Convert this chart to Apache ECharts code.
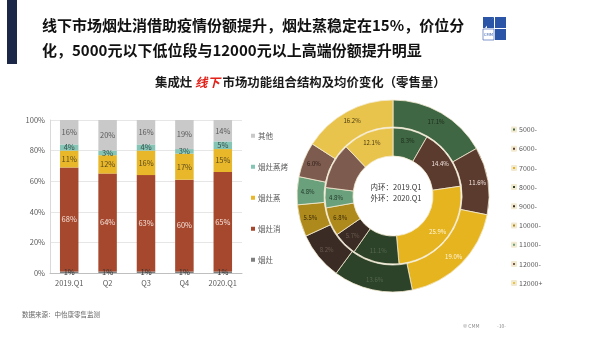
<!DOCTYPE html>
<html>
<head>
<meta charset="utf-8">
<style>
html,body{margin:0;padding:0;background:#fff;}
#chart{width:600px;height:338px;}
</style>
<script src="https://cdn.jsdelivr.net/npm/echarts@6/dist/echarts.min.js"></script>
</head>
<body>
<div id="chart"></div>
<script>
// ---- Data ----
const barCategories = ['2019.Q1', 'Q2', 'Q3', 'Q4', '2020.Q1'];
const barSeriesNames = ['烟灶', '烟灶消', '烟灶蒸', '烟灶蒸烤', '其他'];
const yanzao = [1, 1, 1, 1, 1];
const yanzaoXiao = [68, 64, 63, 60, 65];
const yanzaoZheng = [11, 12, 16, 17, 15];
const yanzaoZhengKao = [4, 3, 4, 3, 5];
const qita = [16, 20, 16, 19, 14];
const yTicks = [0, 20, 40, 60, 80, 100];

const priceBands = ['5000-', '6000-', '7000-', '8000-', '9000-', '10000-', '11000-', '12000-', '12000+'];
const inner2019 = [8.3, 14.4, 25.9, 11.1, 5.7, 6.8, 4.8, 10.9, 12.1];
const outer2020 = [17.1, 11.6, 19.0, 13.6, 8.2, 5.5, 4.8, 6.0, 16.2];

// ---- Styles ----
const FONT = '"Noto Sans CJK SC", "Noto Sans", sans-serif';
const barColors = ['#7f7f7f', '#a5482d', '#e8b72a', '#86c4b6', '#c9c9c9'];
const barLabelColors = ['#333', '#f6e2da', '#5a4a20', '#35504a', '#595959'];
const pieColors = ['#3f6743', '#5c3b2f', '#e6b41f', '#2c4229', '#3a2b24', '#ae891b', '#6aa17c', '#7d5b4f', '#e9c44c'];
const pieLabelColors = ['#1c2a1c', '#f3e6e0', '#fff6dc', '#55684f', '#6a5a50', '#3a2c0c', '#1f3326', '#2a1a15', '#4a3a10'];

const barData = [yanzao, yanzaoXiao, yanzaoZheng, yanzaoZhengKao, qita];

const barSeries = barSeriesNames.map((name, i) => ({
  name: name,
  type: 'bar',
  stack: 'total',
  barWidth: 18.5,
  data: barData[i],
  itemStyle: { color: barColors[i] },
  label: {
    show: true,
    position: 'inside',
    formatter: '{c}%',
    fontSize: 7.5,
    fontFamily: FONT,
    color: barLabelColors[i]
  },
  emphasis: { disabled: true }
}));

const PIE_CENTER = [393, 196];

function pieSeries(values, inner, outer, hideIdx) {
  return {
    type: 'pie',
    center: PIE_CENTER,
    radius: [inner, outer],
    startAngle: 90,
    clockwise: true,
    avoidLabelOverlap: false,
    itemStyle: { borderColor: '#f2ead0', borderWidth: 0.8 },
    label: { show: true, position: 'inside', fontSize: 6, fontFamily: FONT },
    labelLine: { show: false },
    emphasis: { disabled: true },
    data: values.map((v, i) => ({
      name: priceBands[i],
      value: v,
      itemStyle: { color: pieColors[i] },
      label: {
        show: hideIdx.indexOf(i) < 0,
        formatter: v.toFixed(1) + '%',
        color: pieLabelColors[i]
      }
    }))
  };
}

// legends: one per item for exact placement
const barLegendOrder = ['其他', '烟灶蒸烤', '烟灶蒸', '烟灶消', '烟灶'];
const barLegends = barLegendOrder.map((n, i) => ({
  data: [n],
  left: 251,
  top: 132 + i * 31,
  orient: 'vertical',
  icon: 'rect',
  itemWidth: 4,
  itemHeight: 4,
  itemGap: 0,
  padding: 0,
  textStyle: { fontSize: 7.5, color: '#595959', fontFamily: FONT, padding: [0, 0, 0, -2] },
  selectedMode: false
}));
const pieLegends = priceBands.map((n, i) => ({
  data: [n],
  left: 511,
  top: 126 + i * 19.2,
  icon: 'rect',
  itemWidth: 4,
  itemHeight: 4,
  padding: 0,
  textStyle: { fontSize: 7, color: '#595959', fontFamily: FONT, padding: [0, 0, 0, -2] },
  selectedMode: false
}));

const chart = echarts.init(document.getElementById('chart'), null, { renderer: 'canvas' });
chart.setOption({
  animation: false,
  backgroundColor: '#ffffff',
  title: [{
    text: '{a|集成灶 }{r|线下}{a| 市场功能组合结构及均价变化（零售量）}',
    left: 155,
    top: 76,
    padding: 0,
    textStyle: {
      rich: {
        a: { fontSize: 12.4, fontWeight: 'bold', color: '#1a1a1a', fontFamily: FONT },
        r: { fontSize: 12.4, fontWeight: 'bold', fontStyle: 'italic', color: '#e3221a', fontFamily: FONT }
      }
    }
  }],
  legend: barLegends.concat(pieLegends),
  grid: { left: 50, right: 358, top: 120, bottom: 65 },
  xAxis: {
    type: 'category',
    data: barCategories,
    axisLine: { lineStyle: { color: '#bfbfbf' } },
    axisTick: { show: false },
    axisLabel: { fontSize: 7.5, color: '#595959', fontFamily: FONT, margin: 6 }
  },
  yAxis: {
    type: 'value',
    min: yTicks[0],
    max: yTicks[yTicks.length - 1],
    interval: 20,
    axisLine: { show: true, lineStyle: { color: '#d9d9d9' } },
    axisTick: { show: false },
    splitLine: { lineStyle: { color: '#e6e6e6' } },
    axisLabel: { formatter: '{value}%', fontSize: 7.5, color: '#595959', fontFamily: FONT, margin: 5 }
  },
  series: barSeries.concat([
    pieSeries(inner2019, 40, 68, [7]),
    pieSeries(outer2020, 69, 96, [])
  ]),
  graphic: [
    { type: 'rect', shape: { x: 7, y: 0, width: 10, height: 64 }, style: { fill: '#1c2848' } },
    { type: 'text', style: { x: 42, y: 25, text: '线下市场烟灶消借助疫情份额提升，烟灶蒸稳定在15%，价位分', fontSize: 15, fontWeight: 'bold', fontFamily: FONT, fill: '#111', verticalAlign: 'middle' } },
    { type: 'text', style: { x: 42, y: 50, text: '化，5000元以下低位段与12000元以上高端份额提升明显', fontSize: 15, fontWeight: 'bold', fontFamily: FONT, fill: '#111', verticalAlign: 'middle' } },
    // logo
    { type: 'polygon', shape: { points: [[483, 17], [494, 17], [485, 28], [483, 28]] }, style: { fill: '#2b56a8' } },
    { type: 'polygon', shape: { points: [[487, 24], [494, 17], [494, 28], [487, 28]] }, style: { fill: '#2b56a8' } },
    { type: 'rect', shape: { x: 495, y: 17, width: 11, height: 11 }, style: { fill: '#2b56a8' } },
    { type: 'rect', shape: { x: 483, y: 29, width: 11, height: 11 }, style: { fill: '#ffffff', stroke: '#2b56a8', lineWidth: 0.6 } },
    { type: 'text', style: { x: 488.5, y: 34.5, text: 'CMM', fontSize: 4, fill: '#2b56a8', align: 'center', verticalAlign: 'middle', fontFamily: FONT } },
    { type: 'rect', shape: { x: 495, y: 29, width: 11, height: 11 }, style: { fill: '#2b56a8' } },
    // pie center text
    { type: 'text', style: { x: 396, y: 187, text: '内环：2019.Q1', fontSize: 7.5, fill: '#333', align: 'center', verticalAlign: 'middle', fontFamily: FONT } },
    { type: 'text', style: { x: 396, y: 198, text: '外环：2020.Q1', fontSize: 7.5, fill: '#333', align: 'center', verticalAlign: 'middle', fontFamily: FONT } },
    // footer
    { type: 'text', style: { x: 22, y: 315, text: '数据来源：中怡康零售监测', fontSize: 6.5, fill: '#666', verticalAlign: 'middle', fontFamily: FONT } },
    { type: 'text', style: { x: 463, y: 326, text: '© CMM', fontSize: 5, fill: '#888', verticalAlign: 'middle', fontFamily: FONT } },
    { type: 'text', style: { x: 497, y: 326, text: '-10-', fontSize: 5, fill: '#888', verticalAlign: 'middle', fontFamily: FONT } }
  ]
});
</script>
</body>
</html>
